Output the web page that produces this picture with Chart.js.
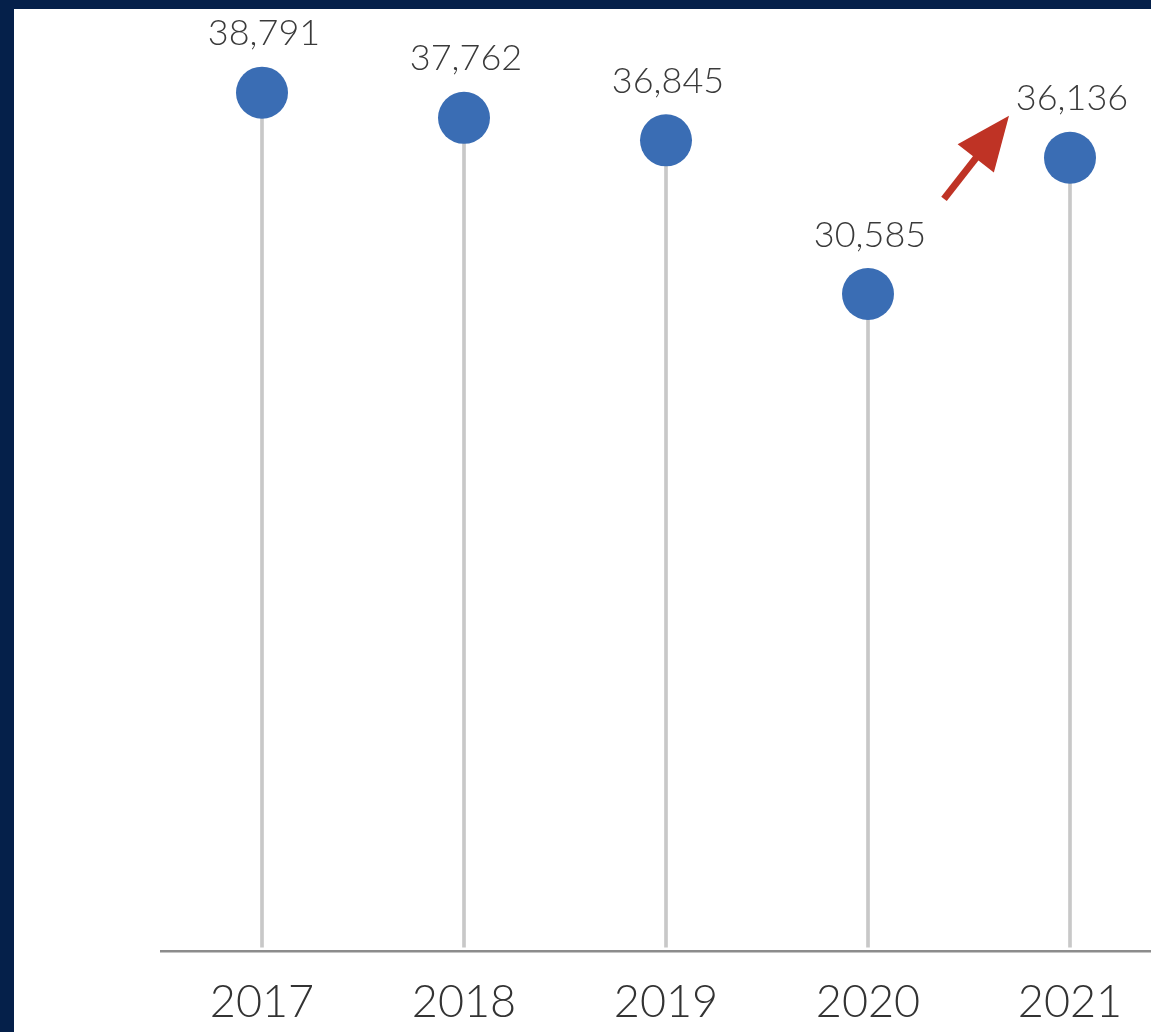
<!DOCTYPE html>
<html>
<head>
<meta charset="utf-8">
<script src="https://cdn.jsdelivr.net/npm/chart.js@4"></script>
<style>
  html, body { margin: 0; padding: 0; overflow: hidden; }
  body { width: 1151px; height: 1032px; background: #05204a; position: relative; }
  #panel { position: absolute; left: 14px; top: 9px; width: 1166px; height: 1023px; background: #fff; }
  #chart { display: block; }
</style>
</head>
<body>
<div id="panel"><canvas id="chart" width="1166" height="1023"></canvas></div>
<script>
const years = ['2017', '2018', '2019', '2020', '2021'];
const totals = [38791, 37762, 36845, 30585, 36136];

const Y_MIN = 3800;
const Y_MAX = 42200;

// value labels above each dot
const valueLabels = {
    id: 'valueLabels',
    afterDatasetsDraw(chart) {
        const ctx = chart.ctx;
        const meta = chart.getDatasetMeta(1);
        ctx.save();
        ctx.font = '300 36px Lato, "Open Sans", sans-serif';
        ctx.fillStyle = '#3a3a3a';
        ctx.textAlign = 'center';
        ctx.textBaseline = 'middle';
        meta.data.forEach((pt, i) => {
            ctx.fillText(totals[i].toLocaleString('en-US'), pt.x + 2, pt.y - 59);
        });
        ctx.restore();
    }
};

// red arrow pointing from the 2020 label up to the 2021 label
const upArrow = {
    id: 'upArrow',
    afterDatasetsDraw(chart) {
        const ctx = chart.ctx;
        const pts = chart.getDatasetMeta(1).data;
        const a = pts[3], b = pts[4];
        const x1 = a.x + 76, y1 = a.y - 95;
        const x2 = b.x - 61, y2 = b.y - 42;
        const ang = Math.atan2(y2 - y1, x2 - x1);
        const headLen = 54, headHalf = 23;
        const bx = x2 - headLen * Math.cos(ang), by = y2 - headLen * Math.sin(ang);
        ctx.save();
        ctx.strokeStyle = '#bf3325';
        ctx.fillStyle = '#bf3325';
        ctx.lineWidth = 7;
        ctx.beginPath();
        ctx.moveTo(x1, y1);
        ctx.lineTo(bx + 4 * Math.cos(ang), by + 4 * Math.sin(ang));
        ctx.stroke();
        ctx.beginPath();
        ctx.moveTo(x2, y2);
        ctx.lineTo(bx + headHalf * Math.sin(ang), by - headHalf * Math.cos(ang));
        ctx.lineTo(bx - headHalf * Math.sin(ang), by + headHalf * Math.cos(ang));
        ctx.closePath();
        ctx.fill();
        ctx.restore();
    }
};

new Chart(document.getElementById('chart'), {
    type: 'bar',
    data: {
        labels: years,
        datasets: [{
            type: 'bar',
            data: totals,
            base: Y_MIN + 160,
            backgroundColor: '#c8c8c8',
            barThickness: 3,
            order: 1
        }, {
            type: 'line',
            data: totals,
            showLine: false,
            pointRadius: 26,
            pointHoverRadius: 26,
            pointBackgroundColor: '#3a6db4',
            pointBorderWidth: 0,
            clip: false,
            order: 0
        }]
    },
    options: {
        responsive: false,
        animation: false,
        events: [],
        layout: { autoPadding: false, padding: { left: 147, right: 9, top: 0, bottom: 0 } },
        plugins: {
            legend: { display: false },
            tooltip: { enabled: false }
        },
        scales: {
            x: {
                offset: true,
                grid: { display: false, drawTicks: false },
                border: { display: true, color: '#8c8c8c', width: 2.5 },
                ticks: {
                    color: '#333',
                    padding: 24,
                    font: { family: 'Lato, "Open Sans", sans-serif', size: 45, weight: 300 }
                },
                afterFit(scale) { scale.height = 81; }
            },
            y: {
                display: false,
                min: Y_MIN,
                max: Y_MAX
            }
        }
    },
    plugins: [valueLabels, upArrow]
});
</script>
</body>
</html>
